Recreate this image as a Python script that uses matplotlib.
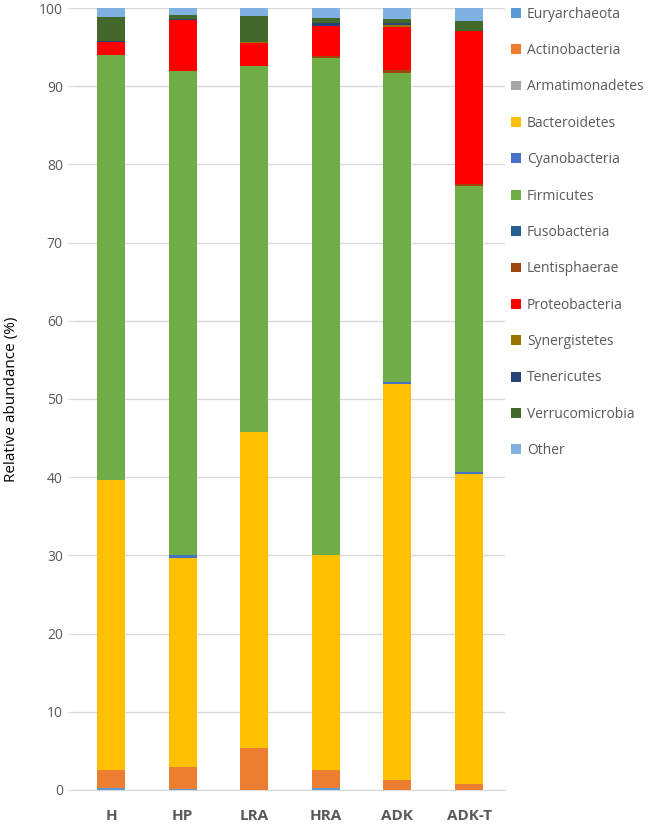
import numpy as np
import matplotlib
matplotlib.use('Agg')
import matplotlib.pyplot as plt
from matplotlib.patches import Patch

# ── 数据 ──
groups = ['H', 'HP', 'LRA', 'HRA', 'ADK', 'ADK-T']
phyla = ['Euryarchaeota', 'Actinobacteria', 'Armatimonadetes', 'Bacteroidetes',
         'Cyanobacteria', 'Firmicutes', 'Fusobacteria', 'Lentisphaerae',
         'Proteobacteria', 'Synergistetes', 'Tenericutes', 'Verrucomicrobia', 'Other']

euryarchaeota   = [0.2, 0.1, 0.0, 0.2, 0.0, 0.0]
actinobacteria  = [2.4, 2.9, 5.4, 2.3, 1.3, 0.8]
armatimonadetes = [0.0, 0.0, 0.0, 0.0, 0.0, 0.0]
bacteroidetes   = [37.1, 26.7, 40.4, 27.5, 50.6, 39.6]
cyanobacteria   = [0.0, 0.3, 0.0, 0.0, 0.3, 0.3]
firmicutes      = [54.3, 61.9, 46.8, 63.6, 39.5, 36.5]
fusobacteria    = [0.0, 0.0, 0.0, 0.0, 0.0, 0.0]
lentisphaerae   = [0.0, 0.0, 0.0, 0.3, 0.4, 0.3]
proteobacteria  = [1.6, 6.6, 2.9, 3.8, 5.5, 19.6]
synergistetes   = [0.0, 0.0, 0.2, 0.0, 0.2, 0.0]
tenericutes     = [0.2, 0.1, 0.0, 0.4, 0.3, 0.0]
verrucomicrobia = [3.0, 0.5, 3.3, 0.6, 0.5, 1.3]
other           = [1.2, 0.9, 1.0, 1.3, 1.6, 1.6]

series = [euryarchaeota, actinobacteria, armatimonadetes, bacteroidetes,
          cyanobacteria, firmicutes, fusobacteria, lentisphaerae,
          proteobacteria, synergistetes, tenericutes, verrucomicrobia, other]

colors = ['#5B9BD5', '#ED7D31', '#A5A5A5', '#FFC000', '#4472C4', '#70AD47',
          '#255E91', '#9E480E', '#FF0000', '#997300', '#264478', '#43682B',
          '#7FB2E3']

plt.rcParams['font.family'] = ['Open Sans', 'DejaVu Sans']

fig = plt.figure(figsize=(6.66, 8.26), dpi=100)
ax = fig.add_axes([0.113, 0.0436, 0.645, 0.9467])

x = np.arange(len(groups))
bottom = np.zeros(len(groups))
for vals, col in zip(series, colors):
    vals = np.array(vals)
    ax.bar(x, vals, width=0.39, bottom=bottom, color=col, edgecolor='none', zorder=3)
    bottom += vals

ax.set_xlim(-0.5, 5.5)
ax.set_ylim(0, 100)
ax.set_yticks(np.arange(0, 101, 10))
ax.yaxis.grid(True, color='#D9D9D9', linewidth=1, zorder=0)
ax.set_axisbelow(True)
for s in ['top', 'right', 'left']:
    ax.spines[s].set_visible(False)
ax.spines['bottom'].set_color('#D9D9D9')
ax.tick_params(axis='y', colors='#595959', labelsize=10, length=5, color='#D9D9D9', pad=4)
ax.tick_params(axis='x', length=0, pad=14)
ax.set_xticks(x)
ax.set_xticklabels(groups, fontsize=11, fontweight='bold', color='#595959')
ax.set_ylabel('Relative abundance (%)', fontsize=11, color='black', labelpad=14)

# ── 图例 ──
handles = [Patch(facecolor=c, edgecolor='none') for c in colors]
fig.legend(handles, phyla, loc='upper left', bbox_to_anchor=(0.767, 0.992),
           frameon=False, fontsize=10, labelspacing=1.54, handlelength=0.72,
           handleheight=0.72, handletextpad=0.45, labelcolor='#595959',
           borderaxespad=0, borderpad=0)

fig.savefig('out.png', dpi=100)
